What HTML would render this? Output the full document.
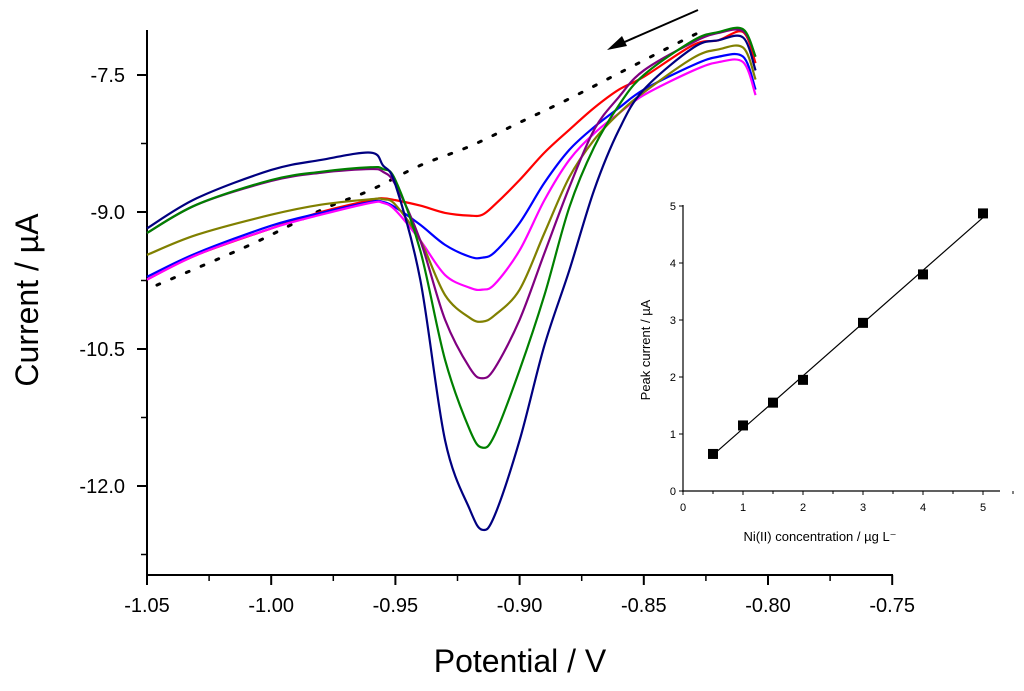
<!DOCTYPE html>
<html><head><meta charset="utf-8"><style>
body{margin:0;background:#fff;width:1024px;height:686px;overflow:hidden}
svg text{font-family:"Liberation Sans",sans-serif}
</style></head><body>
<svg id="chart" width="1024" height="686" xmlns="http://www.w3.org/2000/svg"></svg>
<script>
const potentials=[-1.05,-1.03,-1.00,-0.98,-0.96,-0.955,-0.95,-0.94,-0.93,-0.92,-0.915,-0.91,-0.90,-0.89,-0.88,-0.87,-0.86,-0.85,-0.83,-0.82,-0.81,-0.805];
const navy=[-9.18,-8.85,-8.54,-8.43,-8.35,-8.49,-8.70,-9.74,-11.50,-12.26,-12.48,-12.32,-11.50,-10.46,-9.64,-8.76,-8.10,-7.66,-7.20,-7.12,-7.09,-7.45];
const green=[-9.23,-8.92,-8.65,-8.56,-8.51,-8.53,-8.65,-9.42,-10.62,-11.39,-11.58,-11.44,-10.73,-9.91,-8.95,-8.29,-7.83,-7.50,-7.12,-7.03,-7.00,-7.30];
const purple=[-9.23,-8.92,-8.66,-8.57,-8.53,-8.56,-8.70,-9.31,-10.18,-10.71,-10.82,-10.71,-10.18,-9.45,-8.73,-8.10,-7.74,-7.45,-7.14,-7.04,-7.02,-7.30];
const olive=[-9.47,-9.25,-9.03,-8.92,-8.86,-8.86,-8.92,-9.31,-9.91,-10.16,-10.20,-10.13,-9.85,-9.23,-8.62,-8.21,-7.92,-7.69,-7.31,-7.22,-7.20,-7.55];
const magenta=[-9.74,-9.47,-9.18,-9.03,-8.90,-8.90,-8.98,-9.31,-9.69,-9.83,-9.85,-9.79,-9.42,-8.87,-8.43,-8.14,-7.92,-7.72,-7.45,-7.36,-7.36,-7.72];
const blue=[-9.71,-9.45,-9.15,-9.01,-8.89,-8.89,-8.95,-9.14,-9.36,-9.49,-9.50,-9.44,-9.12,-8.68,-8.32,-8.07,-7.86,-7.66,-7.39,-7.30,-7.30,-7.66];
const red=[-9.74,-9.47,-9.18,-9.00,-8.87,-8.85,-8.87,-8.93,-9.01,-9.04,-9.03,-8.92,-8.65,-8.35,-8.10,-7.86,-7.66,-7.52,-7.17,-7.12,-7.03,-7.37];
const blankPot=[-1.046,-1.0085,-0.98,-0.96,-0.94,-0.92,-0.90,-0.88,-0.86,-0.84,-0.8275];
const blankCur=[-9.80,-9.36,-8.98,-8.76,-8.49,-8.28,-8.02,-7.76,-7.48,-7.20,-7.03];
const xTicks=["-1.05","-1.00","-0.95","-0.90","-0.85","-0.80","-0.75"];
const yTicks=["-7.5","-9.0","-10.5","-12.0"];
const conc=[0.5,1,1.5,2,3,4,5];
const peak=[0.65,1.15,1.55,1.95,2.95,3.8,4.87];
const insetXTicks=["0","1","2","3","4","5"];
const insetYTicks=["0","1","2","3","4","5"];

const NS="http://www.w3.org/2000/svg";
const svg=document.getElementById('chart');
function mk(t,a,p){const e=document.createElementNS(NS,t);for(const k in a)e.setAttribute(k,a[k]);(p||svg).appendChild(e);return e;}
const X=v=>147+(v+1.05)/0.05*124.2;
const Y=v=>75+(-7.5-v)/1.5*137;
function smooth(pts){let d=`M${pts[0][0]},${pts[0][1]}`;for(let i=0;i<pts.length-1;i++){const p0=pts[i-1]||pts[i],p1=pts[i],p2=pts[i+1],p3=pts[i+2]||p2;
d+=` C${p1[0]+(p2[0]-p0[0])/6},${p1[1]+(p2[1]-p0[1])/6} ${p2[0]-(p3[0]-p1[0])/6},${p2[1]-(p3[1]-p1[1])/6} ${p2[0]},${p2[1]}`;}return d;}

let e=mk('line',{x1:147,y1:30,x2:147,y2:576,stroke:'#000','stroke-width':2});

e=mk('line',{x1:146,y1:575,x2:893,y2:575,stroke:'#000','stroke-width':2});

xTicks.forEach((t,i)=>{const v=parseFloat(t),x=X(v);
 mk('line',{x1:x,y1:575,x2:x,y2:585,stroke:'#000','stroke-width':2});
 if(i<xTicks.length-1){const xm=X(v+0.025);mk('line',{x1:xm,y1:575,x2:xm,y2:581,stroke:'#000','stroke-width':1.5});}
 const l=mk('text',{x:x,y:612,'font-size':20,'text-anchor':'middle'});l.textContent=t;
 });
yTicks.forEach(t=>{const v=parseFloat(t),y=Y(v);
 mk('line',{x1:137,y1:y,x2:147,y2:y,stroke:'#000','stroke-width':2});
 const ym=Y(v-0.75);mk('line',{x1:141,y1:ym,x2:147,y2:ym,stroke:'#000','stroke-width':1.5});
 const l=mk('text',{x:125,y:y+7,'font-size':20,'text-anchor':'end'});l.textContent=t;
 });
e=mk('text',{x:0,y:0,'font-size':32,'text-anchor':'middle',transform:'translate(38,300) rotate(-90)'});e.textContent='Current / µA';

e=mk('text',{x:520,y:672,'font-size':32,'text-anchor':'middle'});e.textContent='Potential / V';


e=mk('path',{d:smooth(blankPot.map((p,i)=>[X(p),Y(blankCur[i])])),fill:'none',stroke:'#000','stroke-width':3,'stroke-dasharray':'3 13','stroke-linecap':'round'});

const series=[[red,'#ff0000','red'],[blue,'#0000ff','blue'],[magenta,'#ff00ff','magenta'],[olive,'#808000','olive'],[purple,'#800080','purple'],[green,'#008000','green'],[navy,'#000080','navy']];
series.forEach(s=>{const el=mk('path',{d:smooth(potentials.map((p,i)=>[X(p),Y(s[0][i])])),fill:'none',stroke:s[1],'stroke-width':2.2});
 });
e=mk('g',{});
mk('line',{x1:698,y1:10,x2:620,y2:44,stroke:'#000','stroke-width':2},e);
mk('polygon',{points:'607,50 622,36 627,46',fill:'#000'},e);

const IX=v=>683+v*60, IY=v=>491-v*57;
const g=mk('g',{});
mk('line',{x1:683,y1:205,x2:683,y2:492,stroke:'#000','stroke-width':1.2},g);
mk('line',{x1:682,y1:491,x2:1000,y2:491,stroke:'#000','stroke-width':1.2},g);
insetXTicks.forEach(t=>{const v=+t;mk('line',{x1:IX(v),y1:491,x2:IX(v),y2:495,stroke:'#000'},g);
 mk('line',{x1:IX(v+0.5),y1:491,x2:IX(v+0.5),y2:494,stroke:'#000'},g);
 const l=mk('text',{x:IX(v),y:511,'font-size':11,'text-anchor':'middle'},g);l.textContent=t;
 });
insetYTicks.forEach(t=>{const v=+t;mk('line',{x1:679,y1:IY(v),x2:683,y2:IY(v),stroke:'#000'},g);
 const l=mk('text',{x:676,y:IY(v)+4,'font-size':11,'text-anchor':'end'},g);l.textContent=t;
 });
const n=conc.length,mx=conc.reduce((a,b)=>a+b)/n,my=peak.reduce((a,b)=>a+b)/n;
let sxy=0,sxx=0;conc.forEach((c,i)=>{sxy+=(c-mx)*(peak[i]-my);sxx+=(c-mx)*(c-mx);});
const sl=sxy/sxx,ic=my-sl*mx;
e=mk('line',{x1:IX(conc[0]),y1:IY(ic+sl*conc[0]),x2:IX(conc[n-1]),y2:IY(ic+sl*conc[n-1]),stroke:'#000','stroke-width':1.2},g);

conc.forEach((c,i)=>{const r=mk('rect',{x:IX(c)-5,y:IY(peak[i])-5,width:10,height:10,fill:'#000'},g);
 });
e=mk('text',{x:0,y:0,'font-size':13,'text-anchor':'middle',transform:'translate(650,350) rotate(-90)'},g);e.textContent='Peak current / µA';

e=mk('text',{x:820,y:541,'font-size':13,'text-anchor':'middle'},g);e.textContent='Ni(II) concentration  / µg L⁻';

</script>
</body></html>
